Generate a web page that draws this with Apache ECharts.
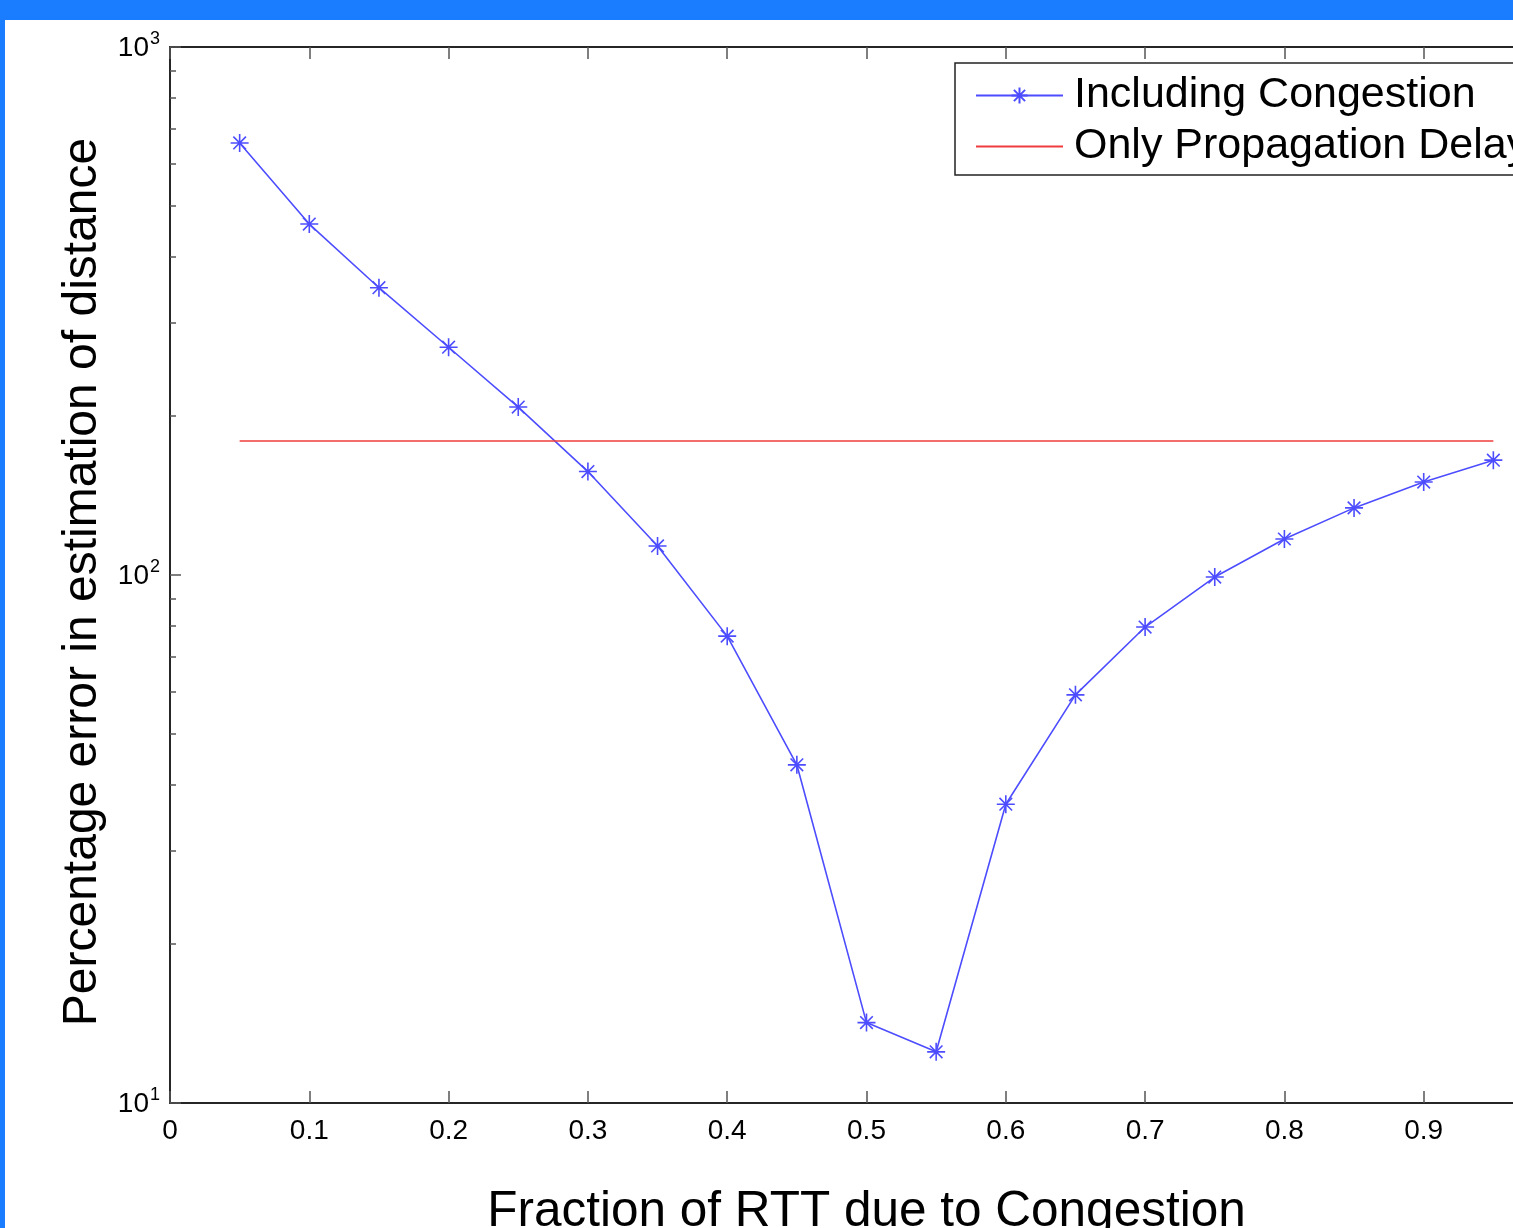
<!DOCTYPE html>
<html>
<head>
<meta charset="utf-8">
<script src="https://cdn.jsdelivr.net/npm/echarts@6/dist/echarts.min.js"></script>
<style>
  html, body { margin: 0; padding: 0; background: #fff; }
  #chart { width: 1513px; height: 1228px; }
</style>
</head>
<body>
<div id="chart"></div>
<script>
// fraction of RTT due to congestion
var fractions = [0.05, 0.1, 0.15, 0.2, 0.25, 0.3, 0.35, 0.4, 0.45, 0.5, 0.55, 0.6, 0.65, 0.7, 0.75, 0.8, 0.85, 0.9, 0.95];
// percentage error, including congestion
var congestionErr = [658, 462, 350, 270, 208, 157, 113.5, 76.6, 43.7, 14.2, 12.5, 36.8, 59.3, 79.7, 99.1, 117, 134, 150, 165];
// only propagation delay (flat)
var propFractions = [0.05, 0.95];
var propErr = [179.4, 179.4];
var majorTicks = [10, 100, 1000];
var minorTicks = [20, 30, 40, 50, 60, 70, 80, 90, 200, 300, 400, 500, 600, 700, 800, 900];

var font = "'Liberation Sans', Arial, Helvetica, sans-serif";
var axisColor = '#262626';

function zip(xs, ys){
    var out = [];
    for (var i = 0; i < xs.length; i++) out.push([xs[i], ys[i]]);
    return out;
}

// matlab style asterisk marker
var star = 'path://M10 0 L10 20 M0 10 L20 10 M3 3 L17 17 M17 3 L3 17';

var myChart = echarts.init(document.getElementById('chart'));
var option = {
    animation: false,
    backgroundColor: '#fff',
    textStyle: { fontFamily: font },
    graphic: [
        { type: 'rect', left: 0, top: 0, shape: { width: 1513, height: 20 }, style: { fill: '#1a7cff' } },
        { type: 'rect', left: 0, top: 0, shape: { width: 5, height: 1228 }, style: { fill: '#1a7cff' } }
    ],
    // plot box runs past the right edge of the page, like the original
    grid: { left: 170, top: 47, width: 1393, height: 1056, containLabel: false, outerBoundsMode: 'none' },
    legend: {
        orient: 'vertical',
        left: 955,
        top: 63,
        padding: [11, 20, 7, 20],
        itemGap: 8,
        itemWidth: 87,
        itemHeight: 20,
        backgroundColor: '#fff',
        borderColor: '#222',
        borderWidth: 1.5,
        borderRadius: 0,
        textStyle: { fontFamily: font, fontSize: 43, color: '#000', padding: [0, 0, 0, 6], lineHeight: 42 },
        data: [
            { name: 'Including Congestion' },
            { name: 'Only Propagation Delay', itemStyle: { opacity: 0 } }
        ]
    },
    xAxis: [{
        type: 'value',
        min: 0, max: 1, interval: 0.1,
        position: 'bottom',
        name: 'Fraction of RTT due to Congestion',
        nameLocation: 'middle',
        nameGap: 84,
        nameTextStyle: { fontFamily: font, fontSize: 49.5, color: '#000' },
        axisLine: { show: true, lineStyle: { color: axisColor, width: 2 } },
        axisTick: { show: true, inside: true, length: 12, lineStyle: { color: '#555', width: 1.5 } },
        axisLabel: {
            margin: 14, fontSize: 28, color: '#000', fontFamily: font,
            formatter: function(v){ return v === 0 ? '0' : v.toFixed(1); }
        },
        splitLine: { show: false }
    }, {
        type: 'value',
        min: 0, max: 1, interval: 0.1,
        position: 'top',
        axisLine: { show: true, lineStyle: { color: axisColor, width: 2 } },
        axisTick: { show: true, inside: true, length: 12, lineStyle: { color: '#555', width: 1.5 } },
        axisLabel: { show: false },
        splitLine: { show: false }
    }],
    yAxis: [{
        type: 'log',
        logBase: 10,
        min: 10, max: 1000,
        position: 'left',
        name: 'Percentage error in estimation of distance',
        nameLocation: 'middle',
        nameGap: 57,
        nameTextStyle: { fontFamily: font, fontSize: 48, color: '#000', padding: [0, 14, 0, 0] },
        axisLine: { show: true, lineStyle: { color: axisColor, width: 2 } },
        axisTick: { show: true, inside: true, length: 11, customValues: majorTicks, lineStyle: { color: '#555', width: 1.5 } },
        axisLabel: {
            margin: 10,
            customValues: majorTicks,
            formatter: function(v){
                var e = Math.round(Math.log10(v));
                return '{b|10}{s|' + e + '}';
            },
            rich: {
                b: { fontFamily: font, fontSize: 28, color: '#000', verticalAlign: 'bottom', lineHeight: 30 },
                s: { fontFamily: font, fontSize: 18, color: '#000', verticalAlign: 'bottom', lineHeight: 30, padding: [0, 0, 14, 1] }
            }
        },
        splitLine: { show: false }
    }, {
        type: 'log',
        logBase: 10,
        min: 10, max: 1000,
        position: 'left',
        axisLine: { show: false },
        axisTick: { show: true, inside: true, length: 6, customValues: minorTicks, lineStyle: { color: '#555', width: 1.5 } },
        axisLabel: { show: false },
        splitLine: { show: false }
    }],
    series: [{
        name: 'Including Congestion',
        type: 'line',
        data: zip(fractions, congestionErr),
        symbol: star,
        symbolSize: 18,
        lineStyle: { color: '#4d4dff', width: 1.6 },
        itemStyle: { color: '#4d4dff', borderColor: '#4d4dff', borderWidth: 1.6 },
        emphasis: { disabled: true }
    }, {
        name: 'Only Propagation Delay',
        type: 'line',
        data: zip(propFractions, propErr),
        symbol: 'none',
        lineStyle: { color: '#f03c3c', width: 1.5 },
        itemStyle: { color: '#f03c3c' },
        emphasis: { disabled: true }
    }]
};
myChart.setOption(option);
</script>
</body>
</html>
